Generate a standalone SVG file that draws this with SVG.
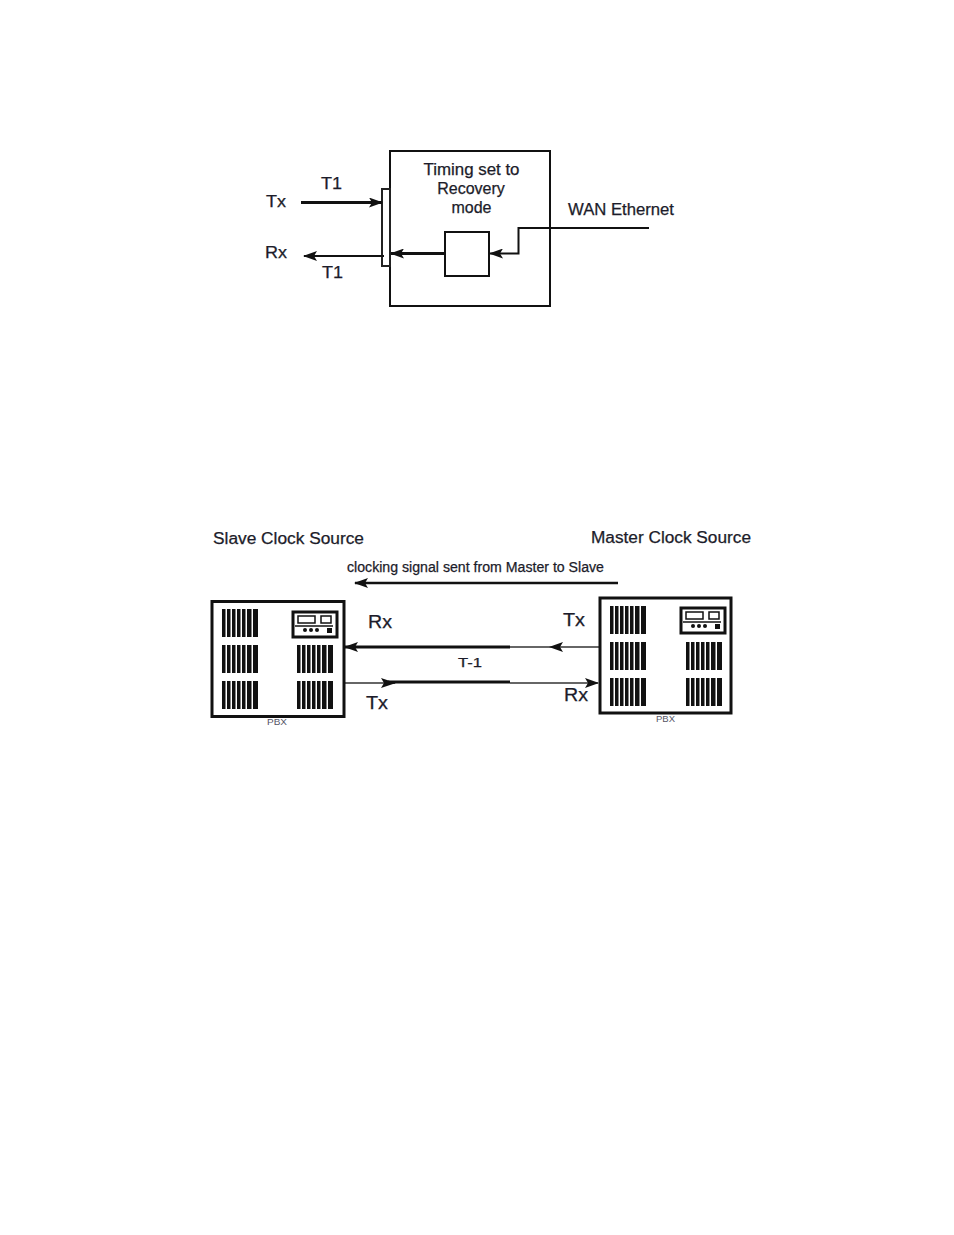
<svg xmlns="http://www.w3.org/2000/svg" width="954" height="1235" viewBox="0 0 954 1235">
<style>
text { font-family: "Liberation Sans", Arial, sans-serif; fill: #1c1c2a; stroke: #1c1c2a; stroke-width: 0.25px; }
.lbl { font-size: 16px; }
.big { font-size: 18px; }
.tiny { font-size: 9px; fill: #555566; stroke: none; }
.box { fill: #fff; stroke: #111; stroke-width: 2; }
.pbx { fill: #fff; stroke: #111; stroke-width: 3; }
.wire { fill: none; stroke: #111; stroke-width: 2; }
.heavy { fill: none; stroke: #111; stroke-width: 3; }
.thin { fill: none; stroke: #333; stroke-width: 1.5; }
</style>
<defs>
<marker id="head" markerUnits="userSpaceOnUse" markerWidth="14" markerHeight="10" refX="13" refY="5" orient="auto">
<path d="M0 0L14 5L0 10L3 5Z" fill="#111"/>
</marker>
<g id="bars" fill="#111">
<rect x="0" y="0" width="3.500" height="28"/><rect x="5" y="0" width="3.500" height="28"/>
<rect x="10" y="0" width="3.500" height="28"/><rect x="15" y="0" width="3.500" height="28"/>
<rect x="20" y="0" width="3.500" height="28"/><rect x="25" y="0" width="4.500" height="28"/>
<rect x="31" y="0" width="5" height="28"/>
</g>
<g id="unit">
<rect x="1" y="1" width="44" height="25" fill="#fff" stroke="#111" stroke-width="3"/>
<rect x="6" y="5" width="17" height="7" fill="#fff" stroke="#111" stroke-width="1.500"/>
<rect x="29" y="5" width="10" height="7" fill="#fff" stroke="#111" stroke-width="1.500"/>
<path d="M3 15H41" stroke="#111" stroke-width="1.500"/>
<circle cx="13" cy="19" r="2" fill="#111"/><circle cx="19" cy="19" r="2" fill="#111"/><circle cx="25" cy="19" r="2" fill="#111"/>
<rect x="35" y="17" width="5" height="5" fill="#111"/>
</g>
</defs>

<rect width="954" height="1235" fill="#fff"/>

<g id="recovery-unit">
<rect class="box" x="390" y="151" width="160" height="155"/>
<text class="lbl" x="471.500" y="175" text-anchor="middle" textLength="96" lengthAdjust="spacingAndGlyphs">Timing set to</text>
<text class="lbl" x="471" y="194" text-anchor="middle">Recovery</text>
<text class="lbl" x="471.500" y="213" text-anchor="middle">mode</text>
</g>
<g id="t1-port"><rect x="382" y="189" width="8" height="77" fill="#fff" stroke="#222" stroke-width="2"/></g>
<g id="recovery-block"><rect class="box" x="445" y="232" width="44" height="44"/></g>

<g id="connectors">
<path class="heavy" d="M301 202.500H382" marker-end="url(#head)"/>
<path class="wire" d="M384 256H304" marker-end="url(#head)"/>
<path class="heavy" d="M445 253.500H391" marker-end="url(#head)"/>
<path class="wire" d="M649 228H518.500V253.500H490" marker-end="url(#head)"/>
<path class="wire" d="M618 583H355" style="stroke-width:2.500" marker-end="url(#head)"/>
<path class="heavy" d="M510 647H345" marker-end="url(#head)"/>
<path class="thin" d="M600 647H510"/>
<path d="M563 642L549 647L563 652L560 647Z" fill="#111"/>
<path class="thin" d="M344 683H395"/>
<path class="heavy" d="M388 682H510"/>
<path class="thin" d="M510 683H598" marker-end="url(#head)"/>
<path d="M381 678L396 683L381 688L384 683Z" fill="#111"/>
</g>

<g id="timing-labels">
<text class="lbl" x="321" y="189" textLength="21" lengthAdjust="spacingAndGlyphs">T1</text>
<text class="lbl" x="322" y="278" textLength="21" lengthAdjust="spacingAndGlyphs">T1</text>
<text class="lbl" x="266" y="207" textLength="20" lengthAdjust="spacingAndGlyphs">Tx</text>
<text class="lbl" x="265" y="258" textLength="22" lengthAdjust="spacingAndGlyphs">Rx</text>
<text class="lbl" x="568" y="215" textLength="106" lengthAdjust="spacingAndGlyphs">WAN Ethernet</text>
</g>

<g id="link-labels">
<text class="lbl" x="213" y="544" textLength="151" lengthAdjust="spacingAndGlyphs">Slave Clock Source</text>
<text class="lbl" x="591" y="543" textLength="160" lengthAdjust="spacingAndGlyphs">Master Clock Source</text>
<text x="347" y="572" font-size="14" textLength="257" lengthAdjust="spacingAndGlyphs">clocking signal sent from Master to Slave</text>
<text class="big" x="368" y="628" textLength="24" lengthAdjust="spacingAndGlyphs">Rx</text>
<text class="big" x="563" y="626" textLength="22" lengthAdjust="spacingAndGlyphs">Tx</text>
<text x="458" y="667" font-size="13" textLength="24" lengthAdjust="spacingAndGlyphs">T-1</text>
<text class="big" x="366" y="709" textLength="22" lengthAdjust="spacingAndGlyphs">Tx</text>
<text class="big" x="564" y="701" textLength="24" lengthAdjust="spacingAndGlyphs">Rx</text>
</g>

<g id="slave-pbx">
<rect class="pbx" x="212" y="601.500" width="132" height="115"/>
<use href="#bars" x="222" y="609"/><use href="#bars" x="222" y="645"/><use href="#bars" x="222" y="681"/>
<use href="#bars" x="297" y="645"/><use href="#bars" x="297" y="681"/>
<use href="#unit" x="292" y="611"/>
<text class="tiny" x="267" y="725" textLength="20" lengthAdjust="spacingAndGlyphs">PBX</text>
</g>

<g id="master-pbx">
<rect class="pbx" x="600" y="598" width="131" height="115"/>
<use href="#bars" x="610" y="606"/><use href="#bars" x="610" y="642"/><use href="#bars" x="610" y="678"/>
<use href="#bars" x="686" y="642"/><use href="#bars" x="686" y="678"/>
<use href="#unit" x="680" y="607"/>
<text class="tiny" x="656" y="722" textLength="19" lengthAdjust="spacingAndGlyphs">PBX</text>
</g>
</svg>
